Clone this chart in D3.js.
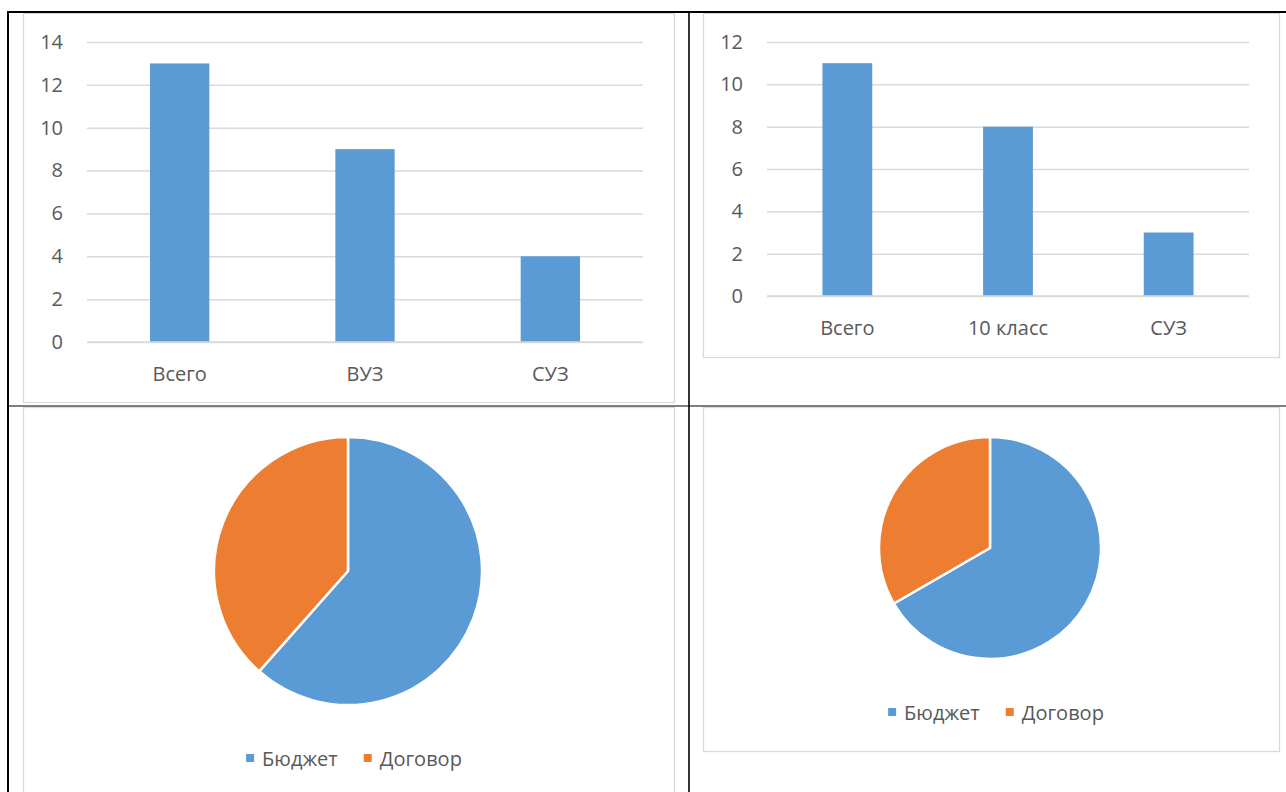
<!DOCTYPE html>
<html><head><meta charset="utf-8">
<script src="https://cdn.jsdelivr.net/npm/d3@7"></script>
<style>
html,body{margin:0;padding:0;background:#fff;}
svg{display:block;}
text{font-family:"Open Sans","Lato",sans-serif;fill:#595959;}
</style></head>
<body>
<svg id="c" width="1286" height="792"></svg>
<script>
// ---- data ----
const cats1 = ["Всего", "ВУЗ", "СУЗ"];
const vals1 = [13, 9, 4];
const ticks1 = [0, 2, 4, 6, 8, 10, 12, 14];

const cats2 = ["Всего", "10 класс", "СУЗ"];
const vals2 = [11, 8, 3];
const ticks2 = [0, 2, 4, 6, 8, 10, 12];

const pieLabels = ["Бюджет", "Договор"];
const pie1Vals = [8, 5];
const pie2Vals = [8, 4];

const colors = ["#5B9BD5", "#ED7D31"];
const barColor = "#5B9BD5";
const FS = 20;
const FONT = "'Open Sans', Lato, sans-serif";

const svg = d3.select("#c");

// chart frames (light gray)
const frames = [
  {x:23, y:13, w:651, h:389},
  {x:703, y:13, w:576, h:344},
  {x:23, y:407, w:651, h:400},
  {x:703, y:407, w:576, h:344}
];
svg.append("g").selectAll("rect").data(frames).join("rect")
  .attr("x", d=>d.x+0.5).attr("y", d=>d.y+0.5).attr("width", d=>d.w).attr("height", d=>d.h)
  .attr("fill", "#fff").attr("stroke", "#d9d9d9").attr("stroke-width", 1.3);

// table lines (black)
const tbl = svg.append("g").attr("stroke", "#000");
tbl.append("line").attr("x1", 7).attr("x2", 1286).attr("y1", 12).attr("y2", 12).attr("stroke-width", 2);
tbl.append("line").attr("x1", 8).attr("x2", 8).attr("y1", 11).attr("y2", 792).attr("stroke-width", 2);
tbl.append("line").attr("x1", 689).attr("x2", 689).attr("y1", 11).attr("y2", 792).attr("stroke-width", 1.6);
tbl.append("line").attr("x1", 8).attr("x2", 1286).attr("y1", 406).attr("y2", 406).attr("stroke-width", 1.2);

function barChart(cats, vals, ticks, x0, x1, yTop, yBot, yMax, pInner, labelY) {
  const g = svg.append("g");
  const x = d3.scaleBand().domain(cats).range([x0, x1]).paddingInner(pInner).paddingOuter(pInner/2);
  const y = d3.scaleLinear().domain([0, yMax]).range([yBot, yTop]);
  const ax = g.append("g").attr("transform", `translate(${x0},0)`)
    .call(d3.axisLeft(y).tickValues(ticks).tickSize(-(x1 - x0)).tickPadding(24).tickFormat(d3.format("d")));
  ax.select(".domain").remove();
  ax.selectAll(".tick line").attr("stroke", "#d9d9d9").attr("stroke-width", 1.5);
  ax.selectAll(".tick text").attr("font-size", FS).attr("fill", "#595959").style("font-family", FONT);
  g.selectAll("rect.bar").data(vals).join("rect").attr("class", "bar")
    .attr("x", (d, i) => x(cats[i])).attr("width", x.bandwidth())
    .attr("y", d => y(d)).attr("height", d => y(0) - y(d))
    .attr("fill", barColor);
  g.append("line").attr("x1", x0).attr("x2", x1).attr("y1", y(0)).attr("y2", y(0))
    .attr("stroke", "#d9d9d9").attr("stroke-width", 1.5);
  g.selectAll("text.cat").data(cats).join("text").attr("class", "cat")
    .attr("x", d => x(d) + x.bandwidth()/2).attr("y", labelY)
    .attr("text-anchor", "middle").attr("dominant-baseline", "central")
    .attr("font-size", FS).text(d => d);
}

barChart(cats1, vals1, ticks1, 87, 643, 42, 342, 14, 0.68, 373);
barChart(cats2, vals2, ticks2, 767, 1249, 42, 296, 12, 0.69, 327);

function pieChart(vals, cx, cy, r, legendCx, legendY) {
  const g = svg.append("g").attr("transform", `translate(${cx},${cy})`);
  const arcs = d3.pie().sort(null)(vals);
  const arc = d3.arc().innerRadius(0).outerRadius(r);
  g.selectAll("path").data(arcs).join("path")
    .attr("d", arc).attr("fill", (d, i) => colors[i])
    .attr("stroke", "#fff").attr("stroke-width", 2.5).attr("stroke-linejoin", "round");
  const lg = svg.append("g");
  const items = lg.selectAll("g").data(pieLabels).join("g");
  items.append("rect").attr("width", 8).attr("height", 8).attr("y", -4).attr("fill", (d, i) => colors[i]);
  items.append("text").attr("x", 16).attr("dominant-baseline", "central").attr("font-size", FS).text(d => d);
  let xPos = 0;
  items.each(function() {
    const w = d3.select(this).select("text").node().getComputedTextLength();
    d3.select(this).attr("transform", `translate(${xPos},0)`);
    xPos += 16 + w + 26;
  });
  const total = xPos - 26;
  lg.attr("transform", `translate(${legendCx - total/2},${legendY})`);
}

pieChart(pie1Vals, 348, 571, 134, 354, 758);
pieChart(pie2Vals, 990, 548, 111, 996, 712);
</script>
</body></html>
